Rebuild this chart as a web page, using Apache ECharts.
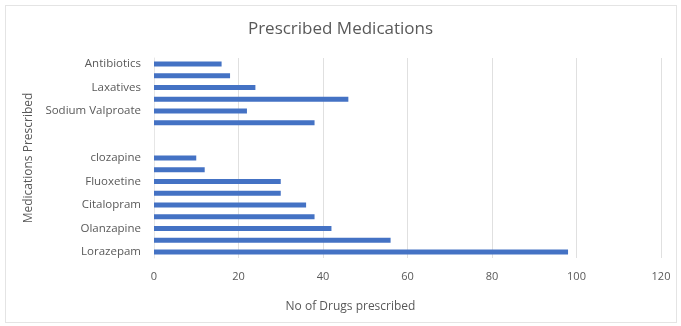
<!DOCTYPE html>
<html>
<head>
<meta charset="utf-8">
<script src="https://cdn.jsdelivr.net/npm/echarts@6/dist/echarts.min.js"></script>
<style>
	html, body {
		margin: 0;
		padding: 0;
		background: #ffffff;
	}
	#frame {
		position: absolute;
		left: 5px;
		top: 5px;
		width: 670px;
		height: 316px;
		border: 1px solid #e4e4e4;
	}
	#main {
		position: absolute;
		left: 0;
		top: 0;
		width: 681px;
		height: 326px;
	}
</style>
</head>
<body>
<div id="frame"></div>
<div id="main"></div>
<script>
	// categories from bottom to top; unlabelled rows in the source stay blank
	var medications = ['Lorazepam', '', 'Olanzapine', '', 'Citalopram', '', 'Fluoxetine', '', 'clozapine',
		'', '', '', 'Sodium Valproate', '', 'Laxatives', '', 'Antibiotics']
	var prescribed = [98, 56, 42, 38, 36, 30, 30, 12, 10, null, null, 38, 22, 46, 24, 18, 16]
	var xTicks = [0, 20, 40, 60, 80, 100, 120]

	var textColor = '#595959'
	var font = '"Open Sans", "Liberation Sans", sans-serif'

	var chart = echarts.init(document.getElementById('main'), null, { renderer: 'canvas' })
	chart.setOption({
		animation: false,
		title: {
			text: 'Prescribed Medications',
			left: 'center',
			top: 16,
			textStyle: {
				color: textColor,
				fontFamily: font,
				fontSize: 17,
				fontWeight: 'normal'
			}
		},
		grid: {
			left: 154,
			right: 20,
			top: 58,
			bottom: 68
		},
		xAxis: {
			type: 'value',
			min: xTicks[0],
			max: xTicks[xTicks.length - 1],
			interval: 20,
			name: 'No of Drugs prescribed',
			nameLocation: 'middle',
			nameGap: 43,
			nameTextStyle: {
				color: textColor,
				fontFamily: font,
				fontSize: 12,
				padding: [0, 0, 0, -114]
			},
			axisLine: { show: false },
			axisTick: { show: false },
			axisLabel: {
				color: textColor,
				fontFamily: font,
				fontSize: 11,
				margin: 13
			},
			splitLine: {
				lineStyle: { color: '#e0e0e0', width: 1 }
			}
		},
		yAxis: {
			type: 'category',
			data: medications,
			name: 'Medications Prescribed',
			nameLocation: 'middle',
			nameGap: 110,
			nameTextStyle: {
				color: textColor,
				fontFamily: font,
				fontSize: 12
			},
			axisLine: {
				lineStyle: { color: '#e6e6e6' }
			},
			axisTick: { show: false },
			axisLabel: {
				interval: 0,
				color: textColor,
				fontFamily: font,
				fontSize: 11.5,
				margin: 13
			},
			splitLine: { show: false }
		},
		series: [{
			type: 'bar',
			data: prescribed,
			barWidth: 5,
			itemStyle: { color: '#4472c4' }
		}]
	})
</script>
</body>
</html>
